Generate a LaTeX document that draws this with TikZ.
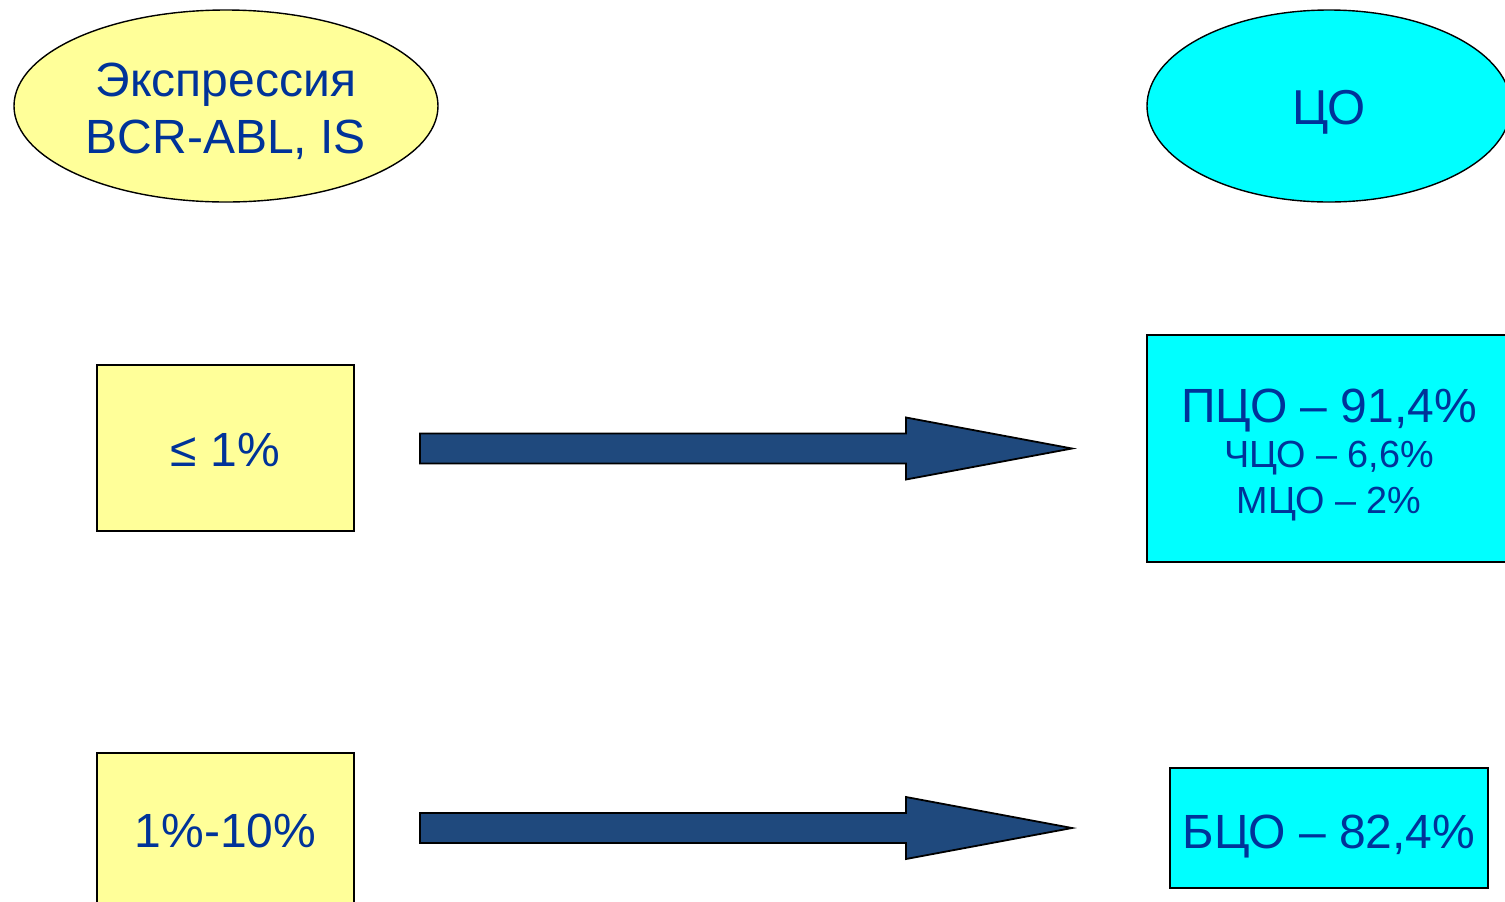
\documentclass[tikz,border=0pt]{standalone}
\usepackage{fontspec}
\setmainfont{Liberation Sans}
\usetikzlibrary{shapes.geometric,calc}
\definecolor{txtblue}{RGB}{0,51,153}
\definecolor{paleyellow}{RGB}{255,255,153}
\definecolor{aqua}{RGB}{0,255,255}
\definecolor{arrowblue}{RGB}{31,73,125}
\tikzset{
  oval/.style={ellipse, draw=black, line width=0.7pt, inner sep=0pt},
  valbox/.style={rectangle, draw=black, line width=1pt, inner sep=0pt},
  label text/.style={text=txtblue, inner sep=0pt, anchor=base},
  bigfont/.style={font=\fontsize{24}{28.5}\selectfont},
  smallfont/.style={font=\fontsize{18.9}{22.75}\selectfont},
  bigarrow/.style={draw=black, line width=0.9pt, fill=arrowblue, line join=miter}
}
% block arrow from a start point (#1) to a tip (#2) on the same level
\newcommand\blockarrow[2]{%
  \draw[bigarrow] ($(#1)+(0,-15)$) -- ($(#2)+(-166,-15)$) -- ($(#2)+(-166,-31)$)
    -- (#2) -- ($(#2)+(-166,31)$) -- ($(#2)+(-166,15)$) -- ($(#1)+(0,15)$) -- cycle;}
\begin{document}
\begin{tikzpicture}[x=0.5pt,y=-0.5pt]
\useasboundingbox (0,0) rectangle (1505,901);
\clip (0,0) rectangle (1505,901);

% column headers
\node[oval, fill=paleyellow, minimum width=212pt, minimum height=96pt] (hexpr) at (226,106) {};
\node[label text, bigfont] at ($(hexpr.center)+(0,-10)$) {Экспрессия};
\node[label text, bigfont] at ($(hexpr.center)+(0,47)$) {BCR-ABL, IS};
\node[oval, fill=aqua, minimum width=182pt, minimum height=96pt] (hco) at (1329,106) {};
\node[label text, font=\fontsize{24.5}{28}\selectfont] at ($(hco.center)+(0,18)$) {ЦО};

% expression levels
\node[valbox, fill=paleyellow, minimum width=128.5pt, minimum height=83pt] (y1) at (225.5,448) {};
\node[label text, bigfont] at ($(y1.center)+(0,18)$) {≤ 1\%};
\node[valbox, fill=paleyellow, minimum width=128.5pt, minimum height=77pt] (y2) at (225.5,830) {};
\node[label text, bigfont] at ($(y2.center)+(0,17)$) {1\%-10\%};

% responses
\node[valbox, fill=aqua, minimum width=182pt, minimum height=113.5pt] (c1) at (1329,448.5) {};
\node[label text, bigfont]   at ($(c1.center)+(0,-26.5)$) {ПЦО – 91,4\%};
\node[label text, smallfont] at ($(c1.center)+(0,18.5)$)  {ЧЦО – 6,6\%};
\node[label text, smallfont] at ($(c1.center)+(0,64.5)$)  {МЦО – 2\%};
\node[valbox, fill=aqua, minimum width=159pt, minimum height=60pt] (c2) at (1329,828) {};
\node[label text, bigfont] at ($(c2.center)+(0,20)$) {БЦО – 82,4\%};

% block arrows
\coordinate (t1) at ($(c1.west)+(-74,0)$);
\coordinate (s1) at ($(t1 -| y1.east)+(65,0)$);
\coordinate (t2) at ($(c2.west)+(-97,0)$);
\coordinate (s2) at ($(t2 -| y2.east)+(65,0)$);
\blockarrow{s1}{t1}
\blockarrow{s2}{t2}
\end{tikzpicture}
\end{document}
